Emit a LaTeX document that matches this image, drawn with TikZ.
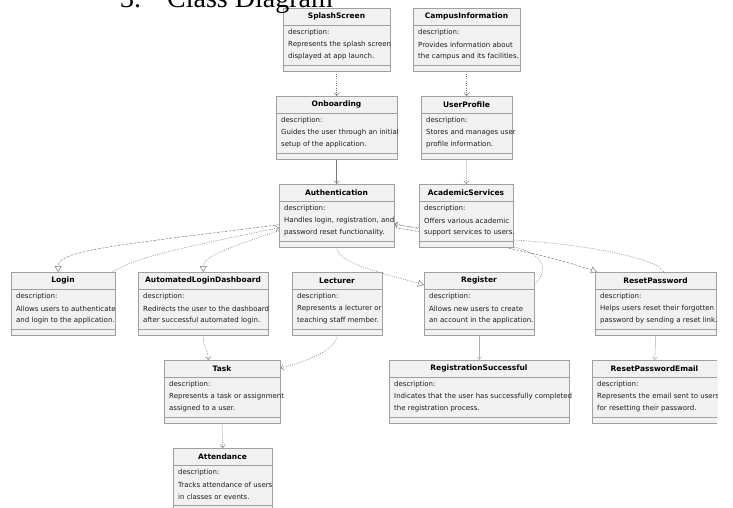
\documentclass[tikz,border=0pt]{standalone}
\usepackage{fontspec}
\setmainfont{DejaVu Sans}
\newfontfamily\titlefont{Liberation Serif}
\usetikzlibrary{arrows.meta,calc}
\definecolor{boxfill}{HTML}{F1F1F1}
\definecolor{boxborder}{HTML}{A0A0A0}
\definecolor{linecol}{HTML}{7A7A7A}
\definecolor{lightline}{HTML}{B0B0B0}
\definecolor{textcol}{HTML}{1E1E1E}
\tikzset{
  clsbox/.style={draw=boxborder, fill=boxfill, line width=0.6pt, minimum height=63pt, inner sep=0pt, anchor=north west},
  clstitle/.style={font=\fontsize{7.5}{9}\selectfont\bfseries, inner sep=0pt, text=black},
  clstext/.style={font=\fontsize{7}{8}\selectfont, anchor=west, inner sep=0pt, text=textcol},
  sepline/.style={draw=boxborder, line width=0.5pt},
  depline/.style={draw=linecol, line width=0.5pt, dash pattern=on 1pt off 1.3pt},
  dashline/.style={draw=linecol, line width=0.5pt, dash pattern=on 2.5pt off 1.5pt},
  solidline/.style={draw=linecol, line width=0.5pt},
  faintline/.style={draw=lightline, line width=0.5pt},
  barb/.style={-{Straight Barb[length=3pt,width=5pt]}},
  tri/.style={-{Triangle[open,length=6pt,width=7pt]}},
  titletext/.style={anchor=base west, inner sep=0pt, font=\titlefont\fontsize{28}{30}\selectfont},
}
\newcommand\umlclass[7]{%
  \node[clsbox, minimum width=#4pt] (#1) at (#2,#3) {};
  \node[clstitle] (#1-t) at ({#2+#4/2},{#3+8.5}) {#5};
  \draw[sepline] ({#2},{#3+17}) -- ({#2+#4},{#3+17});
  \node[clstext] (#1-d) at ({#2+5},{#3+25}) {description:};
  \node[clstext] (#1-a) at ({#2+5},{#3+37}) {#6};
  \node[clstext] (#1-b) at ({#2+5},{#3+49}) {#7};
  \draw[sepline] ({#2},{#3+57}) -- ({#2+#4},{#3+57});
}
% boxes are placed as empty geometry first (for connector anchors), then drawn on top
\newcommand\umlgeom[4]{%
  \node[inner sep=0pt, minimum width=#4pt, minimum height=63pt, anchor=north west] (#1) at (#2,#3) {};
}
\begin{document}
\begin{tikzpicture}[x=1pt,y=-1pt]
\useasboundingbox (0,0) rectangle (733,507);
\begin{scope}
\clip (0,0) rectangle (717,507);
% ---------- geometry of all boxes ----------
\umlgeom{splash}{283}{8}{107}
\umlgeom{campus}{413}{8}{107}
\umlgeom{onboard}{276}{96}{121}
\umlgeom{userprof}{421}{96}{91}
\umlgeom{auth}{279}{184}{115}
\umlgeom{academic}{419}{184}{94}
\umlgeom{login}{11}{272}{104}
\umlgeom{ald}{138}{272}{130}
\umlgeom{lecturer}{292}{272}{90}
\umlgeom{register}{424}{272}{110}
\umlgeom{resetpw}{595}{272}{121}
\umlgeom{task}{164}{360}{116}
\umlgeom{regsucc}{389}{360}{180}
\umlgeom{rpemail}{592}{360}{125}
\umlgeom{attend}{173}{448}{99}
% ---------- connectors ----------
\draw[depline,barb] (splash.south) -- (onboard.north);
\draw[depline,barb] (campus.south) -- (userprof.north);
\draw[solidline,barb] (onboard.south) -- (auth.north);
\draw[depline,barb] (userprof.south) -- (academic.north);
% Authentication -> Register
\draw[depline,tri] (auth.south) .. controls ($(auth.south)+(1,16)$) and ($(register.north west)+(-45,0)$) .. ($(register.north west)+(0,13)$);
% Authentication -> Login
\draw[dashline,tri] ($(auth.west)+(0,9)$) .. controls (120,245) and ($(login.north)+(-5,-22)$) .. ($(login.north)+(-5,0)$);
% Login -> Authentication
\draw[depline,barb] ($(login.north east)+(-3,0)$) .. controls (135,258) and (170,250) .. ($(auth.west)+(0,12)$);
% Authentication -> AutomatedLoginDashboard
\draw[depline,tri] ($(auth.west)+(0,15)$) .. controls (220,250) and ($(ald.north)+(0,-14)$) .. (ald.north);
% AutomatedLoginDashboard -> Task
\draw[depline,barb] (ald.south) .. controls ($(ald.south)+(0,14)$) and ($(task.north)+(-14,-12)$) .. ($(task.north)+(-14,0)$);
% Lecturer -> Task
\draw[depline,barb] (lecturer.south) .. controls ($(lecturer.south)+(0,14)$) and ($(task.north east)+(25,2)$) .. ($(task.north east)+(0,8)$);
% Task -> Attendance
\draw[depline,barb] (task.south) -- (attend.north);
% Register -> RegistrationSuccessful
\draw[faintline,barb] (register.south) -- (regsucc.north);
% ResetPassword -> ResetPasswordEmail
\draw[faintline,barb] (resetpw.south) -- (rpemail.north);
% Register -> Authentication
\draw[depline,barb] ($(register.north east)+(0,12)$) .. controls ($(register.north east)+(20,-6)$) and (535,248) .. (505,246) .. controls (470,240) and (425,230) .. ($(auth.east)+(0,8)$);
% ResetPassword -> Authentication
\draw[depline,barb] ($(resetpw.north)+(8,0)$) .. controls ($(resetpw.north)+(0,-16)$) and (570,243) .. (513,240) .. controls (470,236) and (425,228) .. ($(auth.east)+(0,9)$);
% Authentication -> ResetPassword
\draw[dashline,tri] ($(auth.east)+(0,12)$) .. controls (450,236) and (540,252) .. ($(resetpw.north west)+(2,0)$);
% ---------- boxes ----------
\umlclass{splashbox}{283}{8}{107}{SplashScreen}{Represents the splash screen}{displayed at app launch.}
\umlclass{campusbox}{413}{8}{107}{CampusInformation}{Provides information about}{the campus and its facilities.}
\umlclass{onboardbox}{276}{96}{121}{Onboarding}{Guides the user through an initial}{setup of the application.}
\umlclass{userprofbox}{421}{96}{91}{UserProfile}{Stores and manages user}{profile information.}
\umlclass{authbox}{279}{184}{115}{Authentication}{Handles login, registration, and}{password reset functionality.}
\umlclass{academicbox}{419}{184}{94}{AcademicServices}{Offers various academic}{support services to users.}
\umlclass{loginbox}{11}{272}{104}{Login}{Allows users to authenticate}{and login to the application.}
\umlclass{aldbox}{138}{272}{130}{AutomatedLoginDashboard}{Redirects the user to the dashboard}{after successful automated login.}
\umlclass{lecturerbox}{292}{272}{90}{Lecturer}{Represents a lecturer or}{teaching staff member.}
\umlclass{registerbox}{424}{272}{110}{Register}{Allows new users to create}{an account in the application.}
\umlclass{resetpwbox}{595}{272}{121}{ResetPassword}{Helps users reset their forgotten}{password by sending a reset link.}
\umlclass{taskbox}{164}{360}{116}{Task}{Represents a task or assignment}{assigned to a user.}
\umlclass{regsuccbox}{389}{360}{180}{RegistrationSuccessful}{Indicates that the user has successfully completed}{the registration process.}
\umlclass{rpemailbox}{592}{360}{125}{ResetPasswordEmail}{Represents the email sent to users}{for resetting their password.}
\umlclass{attendbox}{173}{448}{99}{Attendance}{Tracks attendance of users}{in classes or events.}
% ---------- title (on top, as in the reference) ----------
\node[titletext] (num) at (120,7.5) {3.};
\node[titletext] (ttl) at (167,7.5) {Class Diagram};
\end{scope}
\end{tikzpicture}
\end{document}
